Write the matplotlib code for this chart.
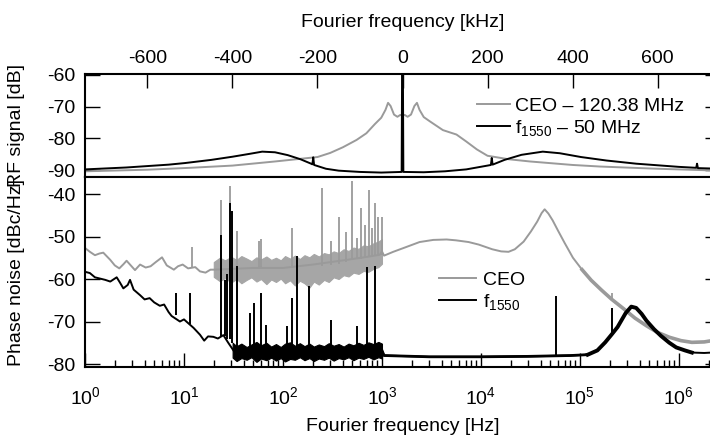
"""
CEO / f1550 beat: RF spectrum (top) and phase noise (bottom)
"""
import numpy as np
import matplotlib
matplotlib.use('Agg')
import matplotlib.pyplot as plt
from matplotlib.ticker import MultipleLocator, LogLocator, NullFormatter

plt.rcParams['font.family'] = 'Liberation Sans'
plt.rcParams['font.size'] = 14
plt.rcParams['axes.unicode_minus'] = False
plt.rcParams['mathtext.fontset'] = 'custom'
plt.rcParams['mathtext.rm'] = 'Liberation Sans'
plt.rcParams['mathtext.it'] = 'Liberation Sans:italic'
plt.rcParams['mathtext.bf'] = 'Liberation Sans:bold'

GRAY = '#9a9a9a'
BAND_GRAY = '#a6a6a6'

# --- RF spectrum (kHz offset, dB) ---
rf_ceo_khz = [-747, -600, -500, -400, -300, -250, -200, -170, -140, -108, -85,
              -65, -50, -40, -34, -28, -20, -12, -5, 0, 5, 12, 20, 28, 34, 40,
              50, 65, 95, 127, 150, 175, 200, 250, 300, 400, 465, 600, 747]
rf_ceo_db = [-90.4, -89.9, -89.3, -88.6, -87.3, -86.6, -85.9, -84.6, -82.8, -80.5,
             -78.4, -75.5, -73.5, -71.0, -68.8, -69.8, -72.5, -73.2, -72.6, -72.8,
             -72.6, -73.2, -72.5, -69.8, -68.8, -71.0, -73.3, -74.7, -77.4, -78.8,
             -81.0, -83.5, -85.5, -86.6, -87.3, -88.4, -88.9, -89.6, -90.2]

rf_f1550_khz = [-747, -650, -550, -512, -450, -400, -360, -330, -300, -270, -240,
                -215, -212, -210, -208, -180, -150, -100, -50, -2, -1, 1, 2, 50,
                100, 150, 200, 208, 210, 212, 240, 280, 330, 370, 420, 480, 550,
                650, 691, 693, 695, 747]
rf_f1550_db = [-89.8, -89.2, -88.3, -87.8, -86.8, -85.8, -84.9, -84.2, -84.4, -85.3,
               -86.6, -88.0, -88.2, -86.0, -88.4, -89.6, -90.2, -90.6, -90.8, -90.6,
               -60.0, -60.0, -90.6, -90.7, -90.4, -89.8, -88.6, -88.4, -86.2, -88.3,
               -86.8, -85.2, -84.2, -84.7, -85.9, -87.0, -88.0, -89.0, -89.3, -88.0,
               -89.4, -89.6]

# --- phase noise (Hz, dBc/Hz) ---
pn_ticks_hz = [1e0, 1e1, 1e2, 1e3, 1e4, 1e5, 1e6]

pn_ceo_hz = [1, 1.12, 1.26, 1.4, 1.53, 1.8, 2.0, 2.22, 2.45, 2.63, 2.9, 3.2, 3.6,
             4.1, 4.6, 5.2, 6.0, 6.7, 7.9, 8.7, 9.7, 11, 13, 14.5, 16.5, 18.5, 20,
             50, 100, 200, 440, 700, 950, 1000, 1050, 1300, 1700, 2400, 3300, 4500,
             5600, 7500, 9500, 13000, 16000, 19000, 22000, 27000, 32000, 37000,
             41000, 44000, 48000, 53000, 60000, 70000, 85000, 105000, 130000,
             165000, 210000, 280000, 360000, 470000, 600000, 800000, 1050000,
             1350000, 1800000, 2600000]
pn_ceo_db = [-52.7, -53.6, -54.4, -54.0, -53.8, -55.5, -56.8, -57.5, -56.5, -55.7,
             -56.8, -57.9, -56.6, -57.3, -57.0, -56.0, -54.9, -56.8, -57.8, -57.0,
             -56.6, -57.5, -57.2, -58.2, -58.5, -57.8, -57.8, -57.4, -57.4, -56.6,
             -55.5, -54.8, -54.3, -53.5, -54.5, -53.6, -52.6, -51.3, -50.8, -50.7,
             -50.9, -51.3, -51.9, -53.0, -53.5, -53.6, -53.0, -51.2, -48.8, -46.5,
             -44.5, -43.6, -44.6, -46.2, -48.6, -51.5, -55.0, -57.8, -60.3, -62.6,
             -64.8, -67.1, -69.2, -71.0, -72.5, -73.7, -74.5, -74.9, -74.8, -74.2]

# noisy band of the CEO trace below 1 kHz (upper / lower envelope)
ceo_band_hz = [20, 23, 26, 30, 34, 38, 43, 48, 54, 60, 68, 76, 85, 95, 105, 118,
               132, 148, 165, 185, 205, 230, 260, 290, 325, 365, 410, 460, 515,
               580, 650, 730, 820, 920, 1000]
ceo_band_hi = [-56.0, -55.0, -55.6, -54.8, -55.5, -54.6, -55.2, -55.8, -54.9, -55.4,
               -54.7, -55.5, -55.0, -55.6, -54.6, -55.2, -54.5, -55.3, -54.4, -54.9,
               -54.1, -54.7, -53.9, -54.2, -53.5, -53.9, -53.0, -53.4, -52.6, -52.9,
               -52.1, -52.3, -51.6, -51.2, -50.6]
ceo_band_lo = [-59.5, -60.5, -59.8, -60.8, -60.0, -61.0, -60.2, -59.6, -60.6, -60.0,
               -61.2, -60.1, -60.7, -59.9, -61.0, -60.3, -61.5, -60.4, -61.0, -62.0,
               -60.6, -61.3, -60.2, -60.7, -59.6, -60.0, -59.1, -59.4, -58.5, -58.8,
               -58.1, -58.3, -57.6, -57.2, -56.4]

ceo_spike_hz = [12, 23.6, 29.2, 34.6, 57, 60, 122, 246, 305, 368, 430, 494, 555,
                609, 673, 739, 794, 857, 920, 995, 210000]
ceo_spike_db = [-52.5, -41.3, -38.2, -48.8, -51.1, -50.7, -48.0, -38.6, -51.0, -45.3,
                -49.0, -36.9, -50.3, -43.3, -47.2, -39.0, -48.0, -42.1, -45.4, -45.4,
                -63.4]
ceo_spike_base = [-57.2, -57.5, -57.5, -57.5, -57.4, -57.4, -57.4, -57.0, -56.8,
                  -56.4, -56.0, -55.6, -55.4, -55.2, -55.0, -54.8, -54.7, -54.5,
                  -54.4, -54.3, -64.8]

pn_f1550_hz = [1, 1.12, 1.26, 1.42, 1.6, 1.8, 2.09, 2.25, 2.44, 2.7, 2.85, 3.1, 3.6,
               4.0, 4.5, 5.0, 5.7, 6.3, 7.0, 7.5, 9.1, 10, 10.8, 12.5, 14.5, 16,
               17.5, 19.8, 22, 25, 28, 32, 100, 500, 1000, 1050, 3000, 10000, 30000,
               80000, 120000, 150000, 180000, 210000, 240000, 290000, 330000,
               370000, 420000, 470000, 560000, 660000, 800000, 940000, 1150000,
               1350000, 1800000, 2600000]
pn_f1550_db = [-58.3, -58.6, -59.6, -59.9, -60.2, -60.6, -59.6, -60.8, -62.2, -61.4,
               -60.2, -62.5, -63.8, -64.8, -64.5, -65.5, -66.3, -66.0, -67.8, -68.7,
               -70.0, -69.5, -70.2, -71.5, -73.1, -74.5, -73.5, -73.6, -74.0, -73.2,
               -75.0, -77.0, -77.0, -76.8, -76.8, -78.0, -78.3, -78.3, -78.2, -78.0,
               -77.8, -76.8, -74.9, -73.0, -71.3, -68.0, -66.5, -66.8, -68.2, -69.8,
               -71.8, -73.4, -75.0, -76.1, -76.8, -77.3, -77.4, -77.2]

# noisy band of the f1550 trace between 30 Hz and 1 kHz
f1550_band_hz = [31, 34, 38, 43, 48, 54, 60, 68, 76, 85, 95, 105, 118, 132, 148,
                 165, 185, 205, 230, 260, 290, 325, 365, 410, 460, 515, 580, 650,
                 730, 820, 920, 1000]
f1550_band_hi = [-75.0, -75.8, -75.2, -76.0, -75.4, -74.8, -75.6, -75.0, -75.9,
                 -75.3, -76.0, -75.2, -74.9, -75.7, -75.1, -75.8, -75.2, -75.9,
                 -75.4, -75.8, -75.1, -75.7, -75.3, -75.9, -75.2, -75.6, -75.0,
                 -75.5, -74.9, -75.3, -74.8, -75.2]
f1550_band_lo = [-78.5, -79.3, -78.6, -79.0, -78.4, -79.5, -78.7, -79.1, -78.5,
                 -79.2, -78.6, -79.4, -78.8, -79.0, -78.4, -79.1, -78.6, -79.3,
                 -78.7, -79.0, -78.5, -79.2, -78.6, -78.9, -78.4, -79.1, -78.5,
                 -78.8, -78.3, -78.9, -78.4, -78.7]

f1550_spike_hz = [8.3, 11.5, 23.5, 26, 27.5, 29.2, 30.3, 34.6, 46.4, 50.9, 59.4, 68,
                  110, 122, 140, 183, 305, 565, 700, 850, 57000, 210000]
f1550_spike_db = [-63.2, -63.3, -49.6, -60.2, -58.8, -42.1, -44.0, -57.0, -68.0,
                  -65.6, -63.3, -70.8, -71.0, -64.5, -54.7, -61.7, -69.7, -71.0,
                  -57.2, -56.9, -64.0, -66.8]
f1550_spike_base = [-68.5, -70.5, -73.5, -73.5, -74.0, -74.0, -75.0, -77.0, -77.0,
                    -77.0, -77.0, -77.0, -77.0, -77.0, -77.0, -77.0, -77.0, -77.0,
                    -77.0, -77.0, -78.2, -73.5]

fig = plt.figure(figsize=(7.1, 4.38), dpi=100)
ax_rf = fig.add_axes([85 / 710, (438 - 177) / 438, 635 / 710, 103 / 438])
ax_pn = fig.add_axes([85 / 710, (438 - 367) / 438, 635 / 710, 190 / 438])

for ax in (ax_rf, ax_pn):
    for s in ax.spines.values():
        s.set_linewidth(1.5)

# top panel
ax_rf.plot(rf_ceo_khz, rf_ceo_db, color=GRAY, lw=1.4, label='CEO \u2013 120.38 MHz')
ax_rf.plot(rf_f1550_khz, rf_f1550_db, color='black', lw=1.4,
           label='f$_{1550}$ \u2013 50 MHz')
ax_rf.set_xlim(-747, 747)
ax_rf.set_ylim(-92.2, -59.7)
ax_rf.xaxis.set_major_locator(MultipleLocator(200))
ax_rf.yaxis.set_major_locator(MultipleLocator(10))
ax_rf.tick_params(axis='x', direction='in', top=True, bottom=False, labeltop=True,
                  labelbottom=False, length=10, width=1, pad=5)
ax_rf.tick_params(axis='y', direction='in', left=True, right=True, length=11,
                  width=1, pad=7)
ax_rf.xaxis.set_label_position('top')
ax_rf.set_xlabel('Fourier frequency [kHz]', labelpad=16.5)
ax_rf.set_ylabel('RF signal [dB]')
ax_rf.yaxis.set_label_coords(-0.095, 0.5)
ax_rf.legend(loc='upper left', bbox_to_anchor=(0.617, 0.775), frameon=False,
             borderpad=0, borderaxespad=0, handlelength=1.7, handletextpad=0.26,
             labelspacing=0.15)

# bottom panel
ceo_hz = np.array(pn_ceo_hz)
ceo_db = np.array(pn_ceo_db)
ax_pn.fill_between(ceo_band_hz, ceo_band_lo, ceo_band_hi, color=BAND_GRAY, lw=0.8,
                   edgecolor=BAND_GRAY)
ax_pn.vlines(ceo_spike_hz, ceo_spike_base, ceo_spike_db, color=GRAY, lw=1.3)
ax_pn.plot(ceo_hz, ceo_db, color=GRAY, lw=1.4, label='CEO')
hi = ceo_hz >= 1e5
ax_pn.plot(ceo_hz[hi], ceo_db[hi], color=GRAY, lw=2.6)

f_hz = np.array(pn_f1550_hz)
f_db = np.array(pn_f1550_db)
ax_pn.fill_between(f1550_band_hz, f1550_band_lo, f1550_band_hi, color='black',
                   lw=0.8, edgecolor='black')
ax_pn.vlines(f1550_spike_hz, f1550_spike_base, f1550_spike_db, color='black', lw=1.4)
ax_pn.plot(f_hz, f_db, color='black', lw=1.4, label='f$_{1550}$')
mid = (f_hz >= 1e3) & (f_hz <= 1.2e5)
ax_pn.plot(f_hz[mid], f_db[mid], color='black', lw=2.0)
hi = (f_hz >= 1.2e5) & (f_hz <= 1.4e6)
ax_pn.plot(f_hz[hi], f_db[hi], color='black', lw=2.8)

ax_pn.set_xscale('log')
ax_pn.set_xlim(1, 2.6e6)
ax_pn.set_ylim(-80.7, -36.0)
ax_pn.set_xticks(pn_ticks_hz)
ax_pn.xaxis.set_minor_locator(LogLocator(base=10, subs=np.arange(2, 10), numticks=20))
ax_pn.xaxis.set_minor_formatter(NullFormatter())
ax_pn.yaxis.set_major_locator(MultipleLocator(10))
ax_pn.tick_params(axis='x', which='major', direction='in', top=False, length=10,
                  width=1, pad=14)
ax_pn.tick_params(axis='x', which='minor', direction='in', top=False, length=5,
                  width=1)
ax_pn.tick_params(axis='y', direction='in', left=True, right=True, length=11,
                  width=1, pad=7)
ax_pn.set_xlabel('Fourier frequency [Hz]', labelpad=7)
ax_pn.set_ylabel('Phase noise [dBc/Hz]')
ax_pn.yaxis.set_label_coords(-0.095, 0.5)
ax_pn.legend(loc='upper left', bbox_to_anchor=(0.557, 0.505), frameon=False,
             borderpad=0, borderaxespad=0, handlelength=1.9, handletextpad=0.4,
             labelspacing=0.15)

fig.savefig('out.png', dpi=100)
